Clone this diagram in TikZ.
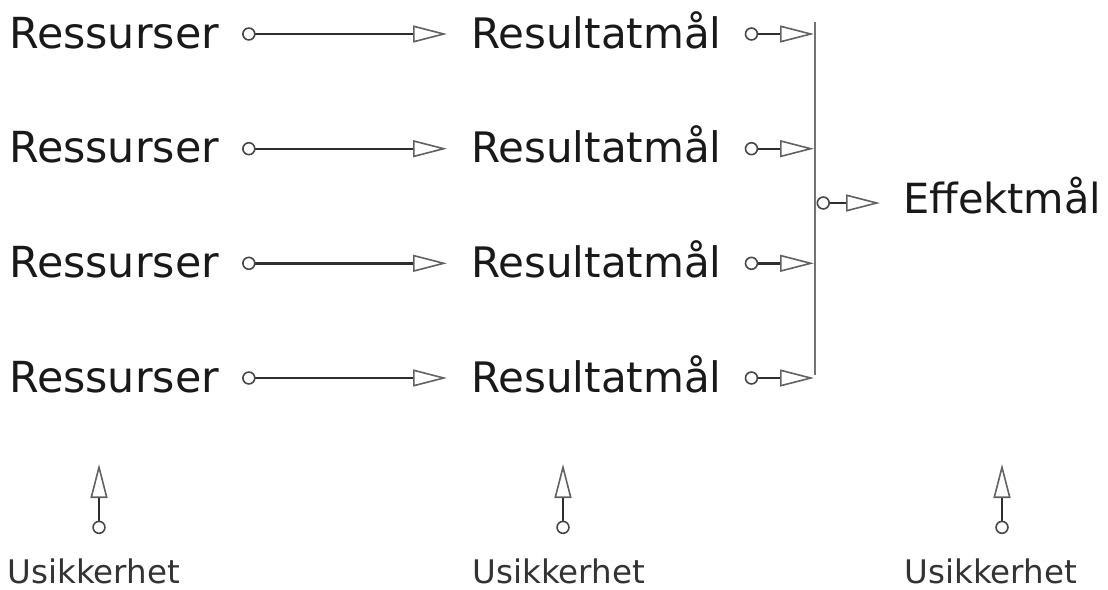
\documentclass[tikz,border=0pt]{standalone}
\usepackage{fontspec}
\setmainfont{DejaVu Sans}
\usetikzlibrary{arrows.meta}
\begin{document}
\begin{tikzpicture}[x=1pt,y=-1pt,
  bigtext/.style={font=\fontsize{42}{46}\selectfont, inner sep=0pt, anchor=base west, text=black!90},
  smalltext/.style={font=\fontsize{32.5}{36}\selectfont, inner sep=0pt, anchor=base west, text=black!80},
  conn/.style={line width=2.4pt, draw=black!82,
    {Circle[open, length=13.5pt, width=13.5pt, line width=1.6pt, fill=white, color=black!72]}-{Triangle[open, length=34pt, width=17pt, line width=1.6pt, fill=white, color=black!62]}},
  bar/.style={line width=1.8pt, draw=black!55}
]
\useasboundingbox (0,0) rectangle (1108,589);

% row texts
\foreach \i/\yb in {1/48,2/162.7,3/277.3,4/392}{
  \node[bigtext, font=\fontsize{42.8}{46}\selectfont] (r\i) at (9,\yb) {Ressurser};
  \node[bigtext] (m\i) at (471,\yb) {Resultatmål};
  \coordinate (b\i) at (815,\yb-14);
}
\node[bigtext, font=\fontsize{41.5}{46}\selectfont] (e) at (903,213) {Effektmål};

% vertical collector bar
\coordinate (bartop) at (815,22);
\coordinate (barbot) at (815,375);
\coordinate (barmid) at (815,203);
\draw[bar] (bartop) -- (barbot);

% connectors
\foreach \i in {1,2,3,4}{
  \draw[conn, shorten <=23pt, shorten >=24pt] ([yshift=14pt]r\i.base east) -- ([yshift=14pt]m\i.base west);
  \draw[conn, shorten <=23pt, shorten >=1pt] ([yshift=14pt]m\i.base east) -- (b\i);
}
\draw[conn, shorten <=1.5pt, shorten >=23pt] (barmid) -- (e.west |- barmid);

% uncertainty labels
\node[smalltext] (u1) at (7.5,583) {Usikkerhet};
\node[smalltext] (u2) at (472.5,583) {Usikkerhet};
\node[smalltext] (u3) at (904.5,583) {Usikkerhet};
\coordinate (t1) at (99,464);
\coordinate (t2) at (563,464);
\coordinate (t3) at (1002,464);
\foreach \i in {1,2,3}{
  \draw[conn, shorten <=24pt] (u\i.north -| t\i) -- (t\i);
}
\end{tikzpicture}
\end{document}
